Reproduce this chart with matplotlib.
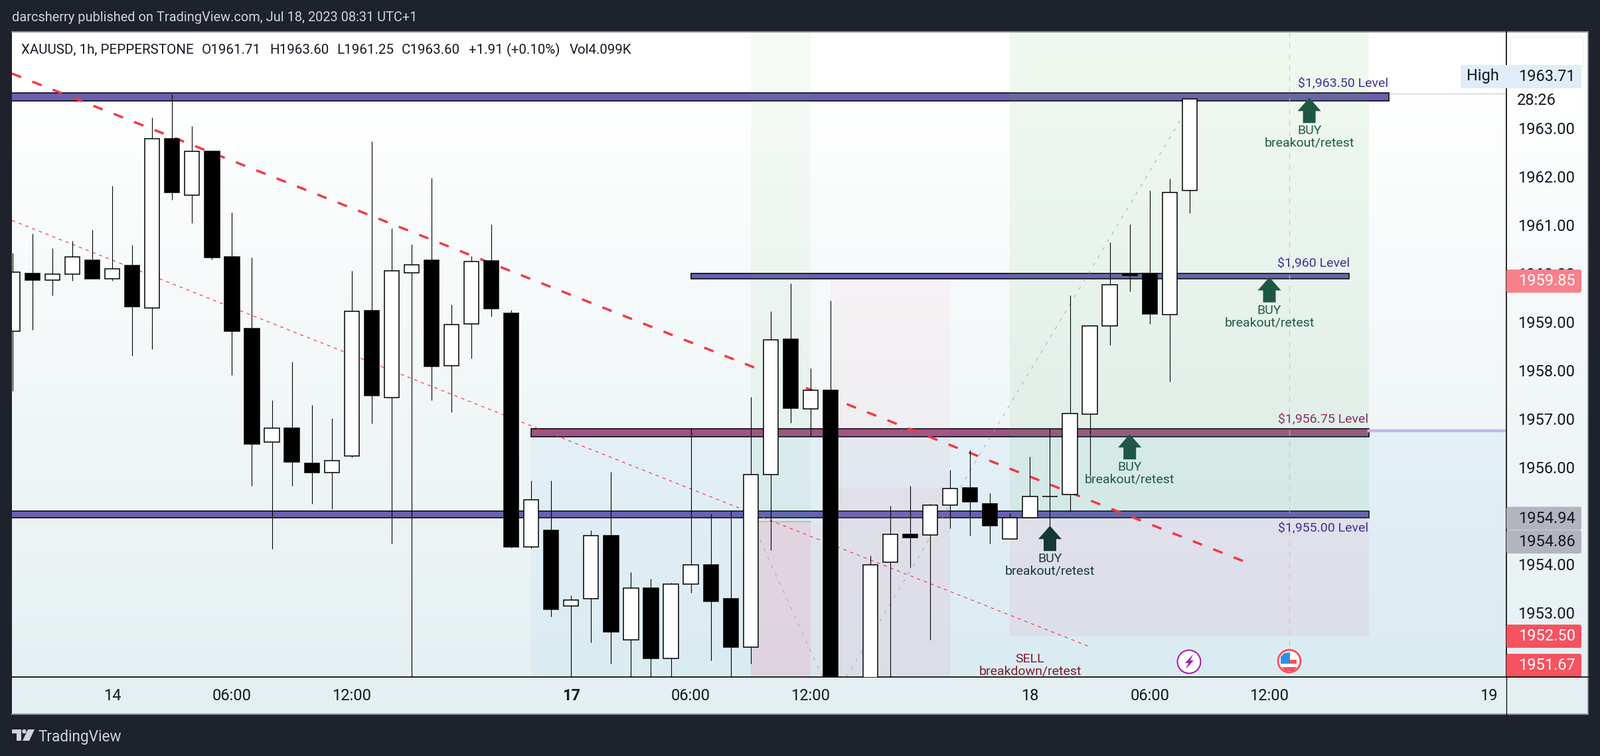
import numpy as np
import matplotlib
matplotlib.use("Agg")
import matplotlib.pyplot as plt
from matplotlib.patches import Rectangle, Circle, Polygon, FancyBboxPatch

plt.rcParams["font.family"] = "Roboto"

# ---------- data ----------
first_bar = -5
opens  = [1958.80,1960.00,1959.86,1959.98,1960.27,1959.89,1960.16,1959.29,1962.77,1961.61,1962.51,1960.34,1958.86,1956.52,1956.80,1956.08,1955.89,1956.23,1959.23,1957.44,1960.01,1960.27,1958.09,1958.96,1960.26,1959.17,1954.36,1954.69,1953.13,1953.29,1954.58,1952.44,1953.50,1952.05,1953.59,1953.99,1953.28,1952.29,1955.84,1958.64,1957.20,1957.58,1951.30,1951.00,1954.04,1954.62,1954.60,1955.21,1955.57,1955.24,1954.52,1954.95,1955.39,1955.44,1957.09,1958.91,1959.98,1960.00,1959.15,1961.71]
highs  = [1960.42,1960.82,1960.51,1960.67,1960.90,1961.80,1960.58,1963.21,1963.69,1963.03,1962.51,1961.26,1960.33,1957.38,1958.17,1957.28,1957.01,1960.05,1962.72,1960.93,1960.60,1961.97,1959.35,1960.35,1961.01,1959.24,1955.72,1955.72,1953.35,1954.70,1955.90,1953.83,1953.69,1953.61,1956.79,1955.04,1955.10,1957.45,1959.21,1959.79,1958.04,1959.43,1951.50,1954.17,1955.20,1955.61,1955.24,1955.94,1956.35,1955.46,1955.05,1956.21,1956.79,1959.54,1958.92,1960.64,1961.01,1961.71,1961.95,1963.60]
lows   = [1957.57,1958.83,1959.54,1959.84,1959.89,1959.84,1958.30,1958.43,1961.51,1961.03,1960.28,1957.90,1955.62,1954.31,1955.61,1955.24,1955.13,1956.20,1956.90,1954.42,1951.50,1957.38,1957.13,1958.24,1959.10,1954.34,1954.33,1952.91,1951.50,1952.38,1951.94,1951.50,1951.50,1951.50,1953.41,1952.01,1951.50,1951.94,1954.28,1956.91,1956.64,1951.50,1950.00,1950.80,1951.50,1953.93,1952.43,1954.74,1954.59,1954.42,1954.52,1954.95,1954.62,1955.08,1955.82,1958.52,1959.63,1958.95,1957.77,1961.24]
closes = [1960.02,1959.86,1959.98,1960.34,1959.89,1960.09,1959.31,1962.77,1961.66,1962.51,1960.33,1958.81,1956.48,1956.81,1956.11,1955.89,1956.13,1959.21,1957.47,1960.05,1960.18,1958.08,1958.94,1960.24,1959.27,1954.35,1955.32,1953.07,1953.26,1954.58,1952.60,1953.51,1952.06,1953.59,1953.99,1953.23,1952.29,1955.84,1958.63,1957.22,1957.58,1951.00,1950.50,1953.99,1954.62,1954.54,1955.21,1955.56,1955.28,1954.79,1954.95,1955.39,1955.39,1957.11,1958.92,1959.76,1959.95,1959.16,1961.67,1963.60]

price_ticks = [1953, 1954, 1955, 1956, 1957, 1958, 1959, 1960, 1961, 1962, 1963]
time_pos = [0, 6, 12, 23, 29, 35, 46, 52, 58, 69]
time_lab = ["14", "06:00", "12:00", "17", "06:00", "12:00", "18", "06:00", "12:00", "19"]

legend_txt = ["XAUUSD, 1h, PEPPERSTONE", "O1961.71", "H1963.60", "L1961.25", "C1963.60", "+1.91 (+0.10%)", "Vol4.099K"]
legend_px = [32, 304, 406, 507, 605, 706, 858]

# bands: x0, x1, price top, price bottom, colour
band_x0 = [-6, 29, 21, -6]
band_x1 = [64, 62, 63, 63]
band_hi = [1963.72, 1960.00, 1956.79, 1955.10]
band_lo = [1963.55, 1959.88, 1956.63, 1954.95]
band_col = ["#6c5fb0", "#6c5fb0", "#a5517f", "#6c5fb0"]

# shaded regions: x0, x1, price low, price high, colour, alpha
region_x0 = [45, 45, 21, 32, 32, 32, 36, 36]
region_x1 = [63, 63, 70, 35, 35, 36, 42, 42]
region_lo = [1954.95, 1952.50, 1950.0, 1954.87, 1950.0, 1950.0, 1950.0, 1950.0]
region_hi = [1966.0, 1954.95, 1956.75, 1966.0, 1954.87, 1954.87, 1959.85, 1955.57]
region_col = ["#4caf50", "#ec7a9a", "#2196f3", "#4caf50", "#ec7a9a", "#ec7a9a", "#ec7a9a", "#ec7a9a"]
region_alpha = [0.085, 0.11, 0.055, 0.055, 0.15, 0.07, 0.06, 0.06]

trend_x = [-5.03, 56.7]
trend_y = [1964.12, 1954.06]
thin_x = [-5.03, 48.9]
thin_y = [1961.09, 1952.31]
grey1_x = [36.8, 53.6]
grey1_y = [1951.67, 1963.20]
grey2_x = [32.46, 35.6]
grey2_y = [1954.50, 1951.67]

arrow_x = [60, 58, 51, 47]
arrow_tip = [1963.62, 1959.92, 1956.68, 1954.79]
arrow_col = ["#1f5745", "#1f5745", "#1f5745", "#143a33"]

level_x = [61.7, 60.2, 60.7, 60.7]
level_y = [1963.92, 1960.21, 1956.99, 1954.75]
level_txt = ["$1,963.50 Level", "$1,960 Level", "$1,956.75 Level", "$1,955.00 Level"]
level_col = ["#3f2d96", "#3f2d96", "#8a2d63", "#3f2d96"]

# side labels: text, y pixel centre, background, text colour
tag_txt = ["1959.85", "1954.94", "1954.86", "1952.50", "1951.67"]
tag_y = [423.5, 781, 816.5, 958.5, 1002.5]
tag_bg = ["#f9808a", "#b2b5be", "#b2b5be", "#f7525f", "#f7525f"]
tag_fg = ["white", "#131722", "#131722", "white", "white"]

# ---------- figure ----------
W, H = 2410, 1139
L, R, T, B = 18, 2269, 48, 1020
PX_K, PX_P = 30.04, 73.0
PX = 100.0 / 72
fig = plt.figure(figsize=(W / 100, H / 100), dpi=100, facecolor="#1e222d")

# background layer
bg = fig.add_axes([0, 0, 1, 1], zorder=0)
bg.set_xlim(0, W); bg.set_ylim(H, 0); bg.axis("off")
top_c = np.array([255, 255, 255]) / 255
bot_c = np.array([228, 239, 241]) / 255
t = np.clip((np.linspace(0, 1, 256) - 0.08) / 0.92, 0, 1)[:, None, None]
grad = top_c[None, None, :] * (1 - t) + bot_c[None, None, :] * t
bg.imshow(grad, extent=[18, 2392, 1076, 48], aspect="auto", zorder=1)
bg.set_xlim(0, W); bg.set_ylim(H, 0)
bg.plot([18, 2392], [48, 48], color="#8c909a", lw=1.5, zorder=2)
bg.plot([18, 2392], [1076, 1076], color="#8c909a", lw=1.5, zorder=2)

# chart
ax = fig.add_axes([L / W, 1 - B / H, (R - L) / W, (B - T) / H], zorder=1)
ax.patch.set_alpha(0)
ax.set_xlim(-5.03, 69.88)
ax.set_ylim(1951.67, 1964.98)

for x0, x1, hi, lo, c in zip(band_x0, band_x1, band_hi, band_lo, band_col):
    ax.add_patch(Rectangle((x0, lo), x1 - x0, hi - lo, facecolor=c,
                           edgecolor="#15131f", lw=1.3, zorder=1))
for x0, x1, lo, hi, c, a in zip(region_x0, region_x1, region_lo, region_hi, region_col, region_alpha):
    ax.add_patch(Rectangle((x0, lo), x1 - x0, hi - lo, facecolor=c, edgecolor="none",
                           alpha=a, zorder=2))
ax.plot([32, 35], [1954.87, 1954.87], color="#b4b6bc", lw=1.2, zorder=2.05)
ax.plot([63, 70], [1956.75, 1956.75], color="#c3b9e3", lw=3.2, zorder=2)
ax.plot([59, 59], [1952.1, 1965], color="#f0a8b8", lw=1.0, ls=(0, (6, 6)), alpha=0.7, zorder=2.1)
ax.plot(trend_x, trend_y, color="#f23645", lw=2.5, ls=(0, (4.3, 5.2)), zorder=2.5)
ax.plot(thin_x, thin_y, color="#f23645", lw=0.85, ls=(0, (4.2, 5)), zorder=2.5)
ax.plot(grey1_x, grey1_y, color="#9a9ea6", lw=0.8, ls=(0, (4.5, 8)), alpha=0.75, zorder=2.5)
ax.plot(grey2_x, grey2_y, color="#9a9ea6", lw=0.8, ls=(0, (4.5, 8)), alpha=0.75, zorder=2.5)
ax.plot([64, 70], [1963.71, 1963.71], color="#787b86", lw=0.8, ls=(0, (1, 1.5)), zorder=2.5)

idx = np.arange(first_bar, first_bar + len(opens))
o, h, l, c = map(np.array, (opens, highs, lows, closes))
ax.vlines(idx, l, h, color="black", lw=0.8, zorder=3)
up = c >= o
body = np.maximum(np.abs(c - o), 0.004)
ax.bar(idx[up], body[up], bottom=o[up], width=0.74, color="white", edgecolor="black", lw=1.1, zorder=4)
ax.bar(idx[~up], body[~up], bottom=c[~up], width=0.74, color="black", edgecolor="black", lw=1.1, zorder=4)

# arrows and captions
dx = lambda v: v / PX_K
dy = lambda v: v / PX_P
for k, tip, col in zip(arrow_x, arrow_tip, arrow_col):
    pts = [(k, tip), (k + dx(17.5), tip - dy(20)), (k + dx(9.5), tip - dy(20)), (k + dx(9.5), tip - dy(38)),
           (k - dx(9.5), tip - dy(38)), (k - dx(9.5), tip - dy(20)), (k - dx(17.5), tip - dy(20))]
    ax.add_patch(Polygon(pts, closed=True, facecolor=col, edgecolor="none", zorder=5))
    ax.annotate("BUY", (k, tip), xytext=(0, -50 / PX), textcoords="offset points", ha="center", va="center",
                fontsize=14, color=col, zorder=5)
    ax.annotate("breakout/retest", (k, tip), xytext=(0, -68.5 / PX), textcoords="offset points", ha="center", va="center",
                fontsize=14, color=col, zorder=5)
ax.text(46, 1952.04, "SELL", ha="center", va="center", fontsize=14, color="#7d1a28", zorder=5)
ax.text(46, 1951.78, "breakdown/retest", ha="center", va="center", fontsize=14, color="#7d1a28", zorder=5)
for x, y, s, col in zip(level_x, level_y, level_txt, level_col):
    ax.text(x, y, s, ha="center", va="center", fontsize=14, color=col, zorder=5)

# axes, ticks
for side in ("top", "left"):
    ax.spines[side].set_visible(False)
for side in ("right", "bottom"):
    ax.spines[side].set_color("black")
    ax.spines[side].set_linewidth(1.2)
ax.yaxis.tick_right()
ax.set_yticks(price_ticks)
ax.set_yticklabels([f"{v:.2f}" for v in price_ticks], fontsize=17, color="#131722")
ax.tick_params(axis="y", length=0, pad=12)
ax.set_xticks(time_pos)
ax.set_xticklabels(time_lab, fontsize=17, color="#131722")
ax.tick_params(axis="x", length=0, pad=12.5)
for lab in ax.get_xticklabels():
    if lab.get_text() == "17":
        lab.set_fontweight("bold")

# overlay in pixel coordinates
ov = fig.add_axes([0, 0, 1, 1], zorder=2)
ov.set_xlim(0, W); ov.set_ylim(H, 0); ov.axis("off"); ov.patch.set_alpha(0)
ov.plot([2392, 2392], [48, 1076], color="#8c909a", lw=1.2)
ov.plot([R, 2392], [B, B], color="black", lw=1.2)
ov.plot([R, R], [B, 1076], color="black", lw=0.9)

ov.text(18, 27, "darcsherry published on TradingView.com, Jul 18, 2023 08:31 UTC+1",
        fontsize=14.4, color="#d1d4dc", va="center", ha="left")
for s, x in zip(legend_txt, legend_px):
    ov.text(x, 75.5, s, fontsize=14.8, color="#131722", va="center", ha="left")

ov.add_patch(FancyBboxPatch((2275, 55), 110, 47, boxstyle="round,pad=0,rounding_size=6",
                            facecolor="white", edgecolor="#eeeeee", lw=1))
ov.add_patch(FancyBboxPatch((2200, 98), 182, 35, boxstyle="round,pad=0,rounding_size=3",
                            facecolor="#e1ecf9", edgecolor="none"))
ov.add_patch(Rectangle((2270, 133), 112, 35, facecolor="white", edgecolor="none"))
ov.text(2209, 114, "High", fontsize=17, color="#131722", va="center", ha="left")
ov.text(2373, 116, "1963.71", fontsize=17, color="#131722", va="center", ha="right")
ov.text(2285, 151, "28:26", fontsize=17, color="#131722", va="center", ha="left")

for s, y, b, f in zip(tag_txt, tag_y, tag_bg, tag_fg):
    ov.add_patch(FancyBboxPatch((R, y - 17.5), 113, 35, boxstyle="round,pad=0,rounding_size=3",
                                facecolor=b, edgecolor="none"))
    ov.text(2373, y, s, fontsize=17, color=f, va="center", ha="right")

# lightning icon
ov.add_patch(Circle((1791, 997), 19.5, facecolor="white", edgecolor="none"))
ov.add_patch(Circle((1791, 997), 17.5, facecolor="white", edgecolor="#9c27b0", lw=1.6))
ov.add_patch(Polygon([(1797, 986), (1785, 999), (1790, 999), (1786, 1008), (1798, 995), (1793, 995)],
                     closed=True, facecolor="#9c27b0", edgecolor="none"))
# flag icon
ov.add_patch(Circle((1942, 996), 19.5, facecolor="white", edgecolor="none"))
ov.add_patch(Rectangle((1931, 994), 22, 6, facecolor="#f7525f", edgecolor="none"))
ov.add_patch(Polygon([(1930, 1005), (1954, 1005), (1948, 1011), (1936, 1011)], closed=True, facecolor="#f7525f", edgecolor="none"))
ov.add_patch(Polygon([(1929, 1000), (1929, 990), (1934, 984), (1943, 983), (1943, 1000)], closed=True, facecolor="#2f8fe8", edgecolor="none"))
ov.add_patch(Circle((1942, 996), 17, facecolor="none", edgecolor="#f7525f", lw=2.2))

# footer logo
logo = "#d1d4dc"
ov.add_patch(Polygon([(18, 1099), (32, 1099), (32, 1116), (25, 1116), (25, 1105), (18, 1105)],
                     closed=True, facecolor=logo, edgecolor="none"))
ov.add_patch(Circle((36.5, 1102), 3.2, facecolor=logo, edgecolor="none"))
ov.add_patch(Polygon([(42, 1099), (52, 1099), (44, 1116), (34, 1116)], closed=True, facecolor=logo, edgecolor="none"))
ov.text(58, 1110, "TradingView", fontsize=16.3, color="#d1d4dc", va="center", ha="left")

fig.savefig("out.png", dpi=100, facecolor=fig.get_facecolor())
